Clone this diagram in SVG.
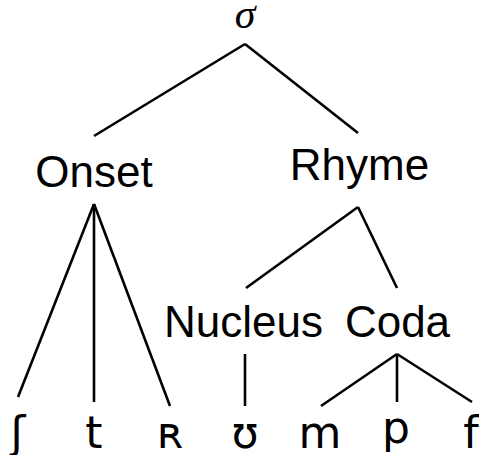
<svg xmlns="http://www.w3.org/2000/svg" width="479" height="455" viewBox="0 0 479 455">
  <style>
    .lbl { font-family: "Liberation Sans", Arial, sans-serif; font-size: 44px; fill: #000; text-anchor: middle; }
    .seg { font-family: "DejaVu Sans", sans-serif; font-size: 44px; fill: #000; text-anchor: middle; }
    .root { font-family: "Liberation Serif", "Times New Roman", serif; font-style: italic; font-size: 42px; fill: #000; text-anchor: middle; }
    .edges line { stroke: #000; stroke-width: 2.6; stroke-linecap: butt; }
  </style>
  <rect width="479" height="455" fill="#fff"/>

  <!-- tree branches -->
  <g id="edges" class="edges">
    <line x1="245" y1="44" x2="94" y2="136"/>
    <line x1="245" y1="44" x2="358" y2="133"/>
    <line x1="94" y1="204" x2="18" y2="397"/>
    <line x1="94" y1="204" x2="94" y2="402"/>
    <line x1="94" y1="204" x2="170" y2="406"/>
    <line x1="358" y1="207" x2="246" y2="288"/>
    <line x1="358" y1="207" x2="397" y2="288"/>
    <line x1="245" y1="354" x2="245" y2="406"/>
    <line x1="397" y1="354" x2="321" y2="406"/>
    <line x1="397" y1="354" x2="397" y2="402"/>
    <line x1="397" y1="354" x2="472" y2="402"/>
  </g>

  <!-- syllable node -->
  <g id="sigma"><text class="root" x="245" y="28">σ</text></g>

  <!-- constituents -->
  <g id="onset"><text class="lbl" x="94" y="187">Onset</text></g>
  <g id="rhyme"><text class="lbl" x="359.5" y="180">Rhyme</text></g>
  <g id="nucleus"><text class="lbl" x="243.5" y="337">Nucleus</text></g>
  <g id="coda"><text class="lbl" x="397.5" y="337">Coda</text></g>

  <!-- segments -->
  <g id="seg-esh"><text class="seg" x="18" y="448">ʃ</text></g>
  <g id="seg-t"><text class="seg" x="94" y="448">t</text></g>
  <g id="seg-r"><text class="seg" x="170" y="448">ʀ</text></g>
  <g id="seg-upsilon"><text class="seg" x="245" y="448">ʊ</text></g>
  <g id="seg-m"><text class="seg" x="320" y="448">m</text></g>
  <g id="seg-p"><text class="seg" x="396" y="443">p</text></g>
  <g id="seg-f"><text class="seg" x="471" y="448">f</text></g>
</svg>
